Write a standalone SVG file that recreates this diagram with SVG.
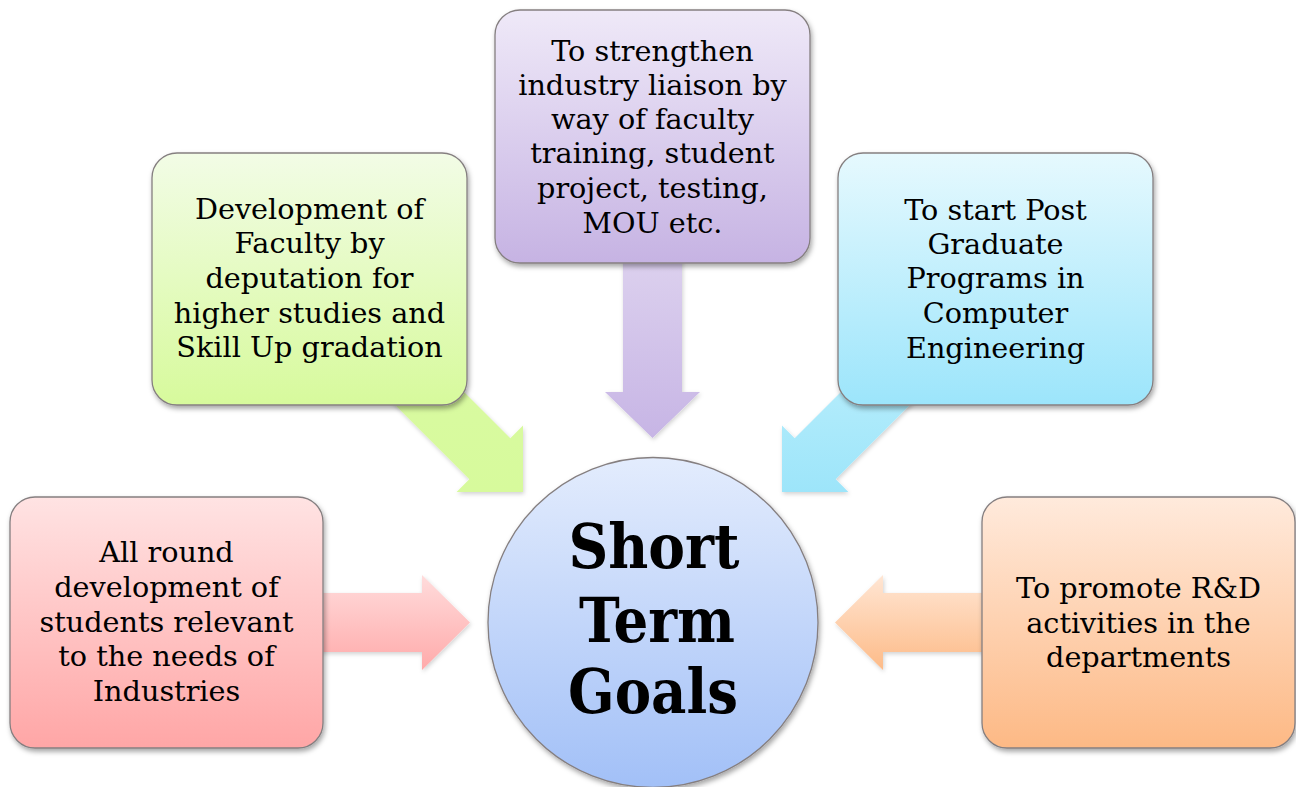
<svg xmlns="http://www.w3.org/2000/svg" width="1296" height="787" viewBox="0 0 1296 787">
<defs>
<filter id="sh" x="-10%" y="-10%" width="125%" height="130%">
<feDropShadow dx="1.5" dy="3" stdDeviation="2.5" flood-color="#000" flood-opacity="0.35"/>
</filter>
<filter id="ash" x="-10%" y="-10%" width="125%" height="130%">
<feDropShadow dx="1" dy="2" stdDeviation="2" flood-color="#000" flood-opacity="0.18"/>
</filter>
<linearGradient id="gRed" x1="0" y1="0" x2="0" y2="1"><stop offset="0" stop-color="#FFE3E3"/><stop offset="1" stop-color="#FFA6A6"/></linearGradient>
<linearGradient id="gGreen" x1="0" y1="0" x2="0" y2="1"><stop offset="0" stop-color="#F2FCE6"/><stop offset="1" stop-color="#D7FA9C"/></linearGradient>
<linearGradient id="gPurple" x1="0" y1="0" x2="0" y2="1"><stop offset="0" stop-color="#EFE9F8"/><stop offset="1" stop-color="#C6B3E3"/></linearGradient>
<linearGradient id="gBlue" x1="0" y1="0" x2="0" y2="1"><stop offset="0" stop-color="#E6F9FE"/><stop offset="1" stop-color="#9CE5FB"/></linearGradient>
<linearGradient id="gOrange" x1="0" y1="0" x2="0" y2="1"><stop offset="0" stop-color="#FFEADC"/><stop offset="1" stop-color="#FDB985"/></linearGradient>
<linearGradient id="gCircle" x1="0" y1="0" x2="0" y2="1"><stop offset="0" stop-color="#E3ECFD"/><stop offset="1" stop-color="#A2C0F7"/></linearGradient>
<linearGradient id="aRed" x1="0" y1="0" x2="0" y2="1"><stop offset="0" stop-color="#FFDCDC"/><stop offset="1" stop-color="#FFAAAA"/></linearGradient>
<linearGradient id="aGreen" x1="0" y1="0" x2="0" y2="1"><stop offset="0" stop-color="#D9FAA2"/><stop offset="1" stop-color="#D7FA9C"/></linearGradient>
<linearGradient id="aPurple" x1="0" y1="0" x2="0" y2="1"><stop offset="0" stop-color="#DED3EF"/><stop offset="1" stop-color="#C7B5E5"/></linearGradient>
<linearGradient id="aBlue" x1="0" y1="0" x2="0" y2="1"><stop offset="0" stop-color="#BCEFFC"/><stop offset="1" stop-color="#9DE5FA"/></linearGradient>
<linearGradient id="aOrange" x1="0" y1="0" x2="0" y2="1"><stop offset="0" stop-color="#FFE6D4"/><stop offset="1" stop-color="#FDBB88"/></linearGradient>
</defs>
<style>
.box{stroke:#857f80;stroke-width:1.3;filter:url(#sh)}
.arr{stroke:none;filter:url(#ash)}
.t{font-family:"DejaVu Serif","Liberation Serif",serif;font-size:28.7px;fill:#000;text-anchor:middle}
.big{font-family:"DejaVu Serif","Liberation Serif",serif;font-size:62px;font-weight:bold;fill:#000;text-anchor:middle}
</style>
<rect width="1296" height="787" fill="#fff"/>
<g id="connectors">
<path class="arr" fill="url(#aRed)" d="M300,593 H422 V575 L470,622.5 L422,670 V652 H300 Z"/>
<path class="arr" fill="url(#aOrange)" d="M1005,593 H883 V575 L835,622.5 L883,670 V652 H1005 Z"/>
<path class="arr" fill="url(#aPurple)" d="M623,240 V392 H605 L652.5,438 L700,392 H682 V240 Z"/>
<path class="arr" fill="url(#aGreen)" d="M415.5,343.5 L510.3,438.3 L523,425.6 L523,492 L456.6,492 L469.3,479.3 L374.5,384.5 Z"/>
<path class="arr" fill="url(#aBlue)" d="M889.5,343.5 L794.7,438.3 L782,425.6 L782,492 L848.4,492 L835.7,479.3 L930.5,384.5 Z"/>
</g>
<g id="node-red">
<rect class="box" x="10" y="497" width="313" height="251" rx="25" fill="url(#gRed)"/>
<text class="t" x="166.5" y="562">All round</text>
<text class="t" x="166.5" y="597">development of</text>
<text class="t" x="166.5" y="632">students relevant</text>
<text class="t" x="166.5" y="666">to the needs of</text>
<text class="t" x="166.5" y="701">Industries</text>
</g>
<g id="node-green">
<rect class="box" x="152" y="153" width="315" height="252" rx="25" fill="url(#gGreen)"/>
<text class="t" x="309.5" y="219">Development of</text>
<text class="t" x="309.5" y="253">Faculty by</text>
<text class="t" x="309.5" y="288">deputation for</text>
<text class="t" x="309.5" y="323">higher studies and</text>
<text class="t" x="309.5" y="357">Skill Up gradation</text>
</g>
<g id="node-purple">
<rect class="box" x="495" y="10" width="315" height="253" rx="25" fill="url(#gPurple)"/>
<text class="t" x="652.5" y="61">To strengthen</text>
<text class="t" x="652.5" y="95">industry liaison by</text>
<text class="t" x="652.5" y="129">way of faculty</text>
<text class="t" x="652.5" y="163">training, student</text>
<text class="t" x="652.5" y="198">project, testing,</text>
<text class="t" x="652.5" y="233">MOU etc.</text>
</g>
<g id="node-blue">
<rect class="box" x="838" y="153" width="315" height="252" rx="25" fill="url(#gBlue)"/>
<text class="t" x="995.5" y="220">To start Post</text>
<text class="t" x="995.5" y="254">Graduate</text>
<text class="t" x="995.5" y="288">Programs in</text>
<text class="t" x="995.5" y="323">Computer</text>
<text class="t" x="995.5" y="358">Engineering</text>
</g>
<g id="node-orange">
<rect class="box" x="982" y="497" width="313" height="251" rx="25" fill="url(#gOrange)"/>
<text class="t" x="1138.5" y="598">To promote R&amp;D</text>
<text class="t" x="1138.5" y="633">activities in the</text>
<text class="t" x="1138.5" y="667">departments</text>
</g>
<g id="node-center">
<circle class="box" cx="653" cy="622.5" r="165" fill="url(#gCircle)"/>
<text class="big" x="654" y="568" textLength="171" lengthAdjust="spacingAndGlyphs">Short</text>
<text class="big" x="657" y="642" textLength="156" lengthAdjust="spacingAndGlyphs">Term</text>
<text class="big" x="653" y="713" textLength="170" lengthAdjust="spacingAndGlyphs">Goals</text>
</g>
</svg>
